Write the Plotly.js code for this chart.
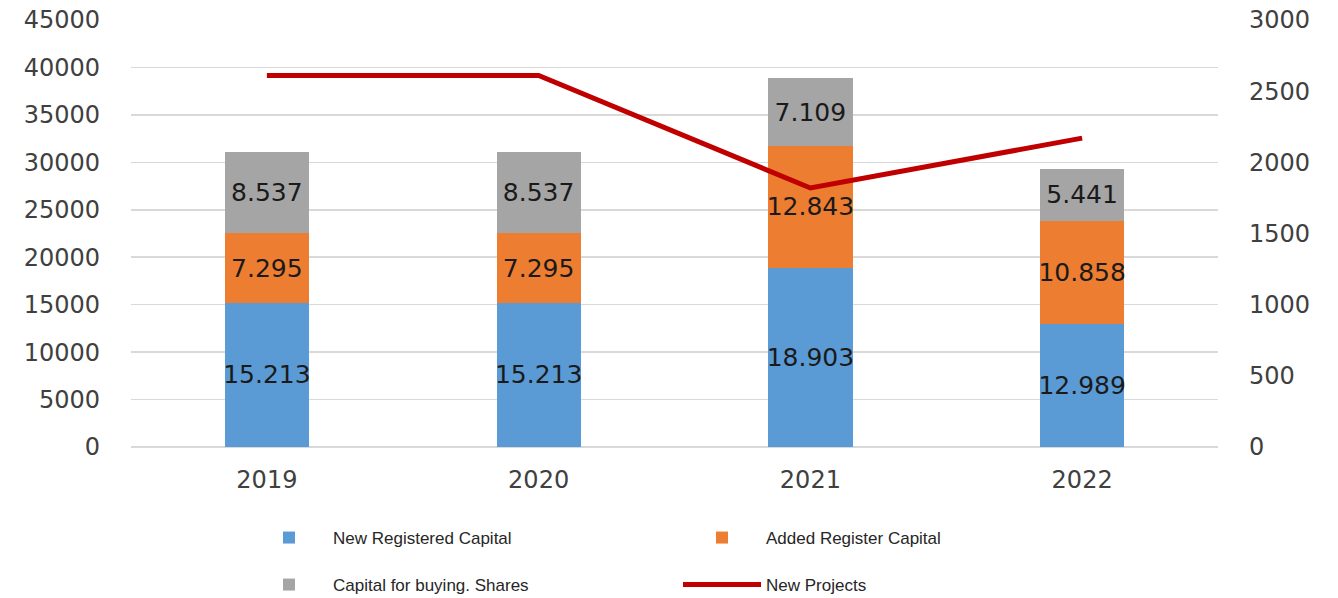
<!DOCTYPE html>
<html>
<head>
<meta charset="utf-8">
<script src="https://cdn.plot.ly/plotly-3.0.1.min.js"></script>
<style>html,body{margin:0;padding:0;background:#fff;}#chart{width:1338px;height:598px;}</style>
</head>
<body>
<div id="chart"></div>
<script>
var years = ['2019', '2020', '2021', '2022'];
var newRegistered = [15213, 15213, 18903, 12989];
var addedRegister = [7295, 7295, 12843, 10858];
var buyingShares = [8537, 8537, 7109, 5441];
var newProjects = [2610, 2610, 1820, 2170];
var seriesNames = ['New Registered Capital', 'Added Register Capital', 'Capital for buying. Shares', 'New Projects'];

function lbl(arr) { return arr.map(function (v) { return (v / 1000).toFixed(3); }); }

var labelFont = {family: 'DejaVu Sans', size: 25, color: '#1a1a1a'};
function barTrace(vals, name, color, legend) {
  return {
    type: 'bar', x: years, y: vals, name: name, legend: legend,
    marker: {color: color},
    width: 0.31,
    text: lbl(vals), textposition: 'inside', insidetextanchor: 'middle',
    textangle: 0, constraintext: 'none',
    insidetextfont: labelFont, textfont: labelFont,
    hoverinfo: 'x+y'
  };
}

var data = [
  barTrace(newRegistered, seriesNames[0], '#5B9BD5', 'legend'),
  barTrace(addedRegister, seriesNames[1], '#ED7D31', 'legend'),
  barTrace(buyingShares, seriesNames[2], '#A5A5A5', 'legend2'),
  {
    type: 'scatter', mode: 'lines', x: years, y: newProjects, name: seriesNames[3],
    yaxis: 'y2', legend: 'legend2',
    line: {color: '#C00000', width: 5}
  }
];

var tickFont = {family: 'DejaVu Sans', size: 24, color: '#404040'};
var legFont = {family: 'Liberation Sans', size: 17, color: '#262626'};

var layout = {
  width: 1338, height: 598,
  margin: {l: 131, r: 120, t: 20, b: 151},
  paper_bgcolor: '#ffffff', plot_bgcolor: '#ffffff',
  barmode: 'stack',
  showlegend: true,
  xaxis: {
    type: 'category', tickfont: tickFont, ticks: '', showline: false,
    ticklabelstandoff: 16
  },
  yaxis: {
    range: [0, 45000], dtick: 5000, tick0: 0, tickformat: 'd',
    gridcolor: '#D9D9D9', gridwidth: 1.5, zeroline: true, zerolinecolor: '#D9D9D9', zerolinewidth: 1.5,
    showline: false, ticks: '', tickfont: tickFont, ticklabelstandoff: 30
  },
  yaxis2: {
    overlaying: 'y', side: 'right', range: [0, 3000], dtick: 500, tick0: 0, tickformat: 'd',
    showgrid: false, zeroline: false, showline: false, ticks: '', tickfont: tickFont,
    ticklabelstandoff: 30
  },
  legend: {
    orientation: 'h', xref: 'container', yref: 'container',
    x: 245 / 1338, xanchor: 'left', y: 1 - 538 / 598, yanchor: 'middle',
    entrywidth: 340, entrywidthmode: 'pixels', itemwidth: 78,
    font: legFont, bgcolor: 'rgba(0,0,0,0)', traceorder: 'normal'
  },
  legend2: {
    orientation: 'h', xref: 'container', yref: 'container',
    x: 245 / 1338, xanchor: 'left', y: 1 - 585 / 598, yanchor: 'middle',
    entrywidth: 340, entrywidthmode: 'pixels', itemwidth: 78,
    font: legFont, bgcolor: 'rgba(0,0,0,0)', traceorder: 'normal'
  }
};

Plotly.newPlot('chart', data, layout, {displayModeBar: false, staticPlot: true});
</script>
</body>
</html>
